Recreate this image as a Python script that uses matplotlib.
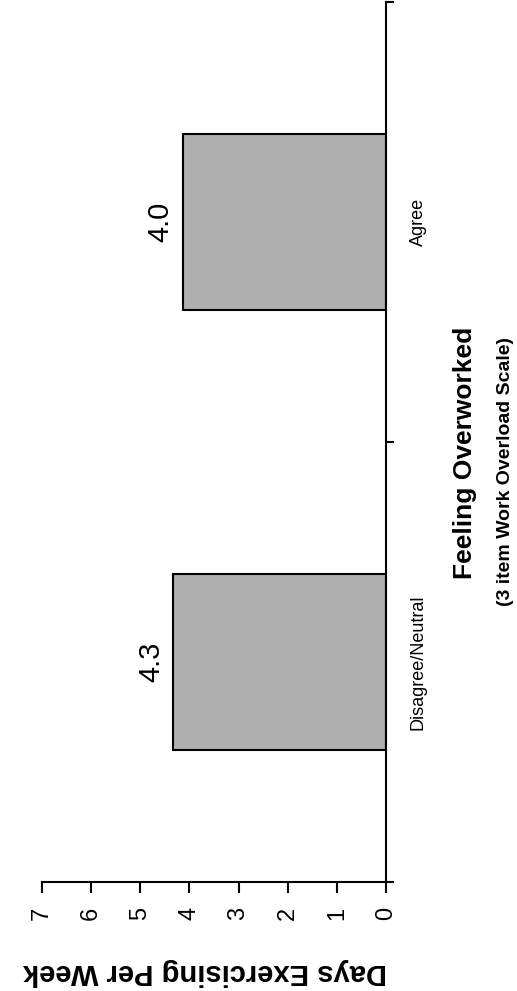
import matplotlib
matplotlib.use("Agg")
import matplotlib.pyplot as plt

# Daten
categories = ["Disagree/Neutral", "Agree"]
days = [4.33, 4.13]
value_labels = ["4.3", "4.0"]
day_ticks = [0, 1, 2, 3, 4, 5, 6, 7]

plt.rcParams['font.family'] = ['Liberation Sans', 'DejaVu Sans']

W, H = 517, 991
fig = plt.figure(figsize=(W / 100, H / 100), dpi=100)
ax = fig.add_axes([42 / W, (H - 882) / H, 344 / W, 880 / H])

pos = list(range(len(categories)))
ax.barh(pos, days, height=0.4, color='#afafaf', edgecolor='black', linewidth=1.5)

# whole chart is turned on its side: value axis runs right -> left
ax.set_xlim(7, 0)
ax.set_ylim(-0.5, 1.5)

for s in ['top', 'left']:
    ax.spines[s].set_visible(False)
for s in ['right', 'bottom']:
    ax.spines[s].set_linewidth(1.5)

ax.set_xticks(day_ticks)
ax.set_xticklabels([str(t) for t in day_ticks], rotation=90)
ax.tick_params(axis='x', direction='out', length=8, width=1.5, pad=10, labelsize=17)

ax.yaxis.tick_right()
ax.set_yticks(pos)
ax.set_yticklabels(categories, rotation=90, va='center')
ax.set_yticks([-0.5, 0.5, 1.5], minor=True)
ax.tick_params(axis='y', which='major', length=0, pad=17, labelsize=13)
ax.tick_params(axis='y', which='minor', direction='out', length=6, width=1.5)

for p, d, lab in zip(pos, days, value_labels):
    ax.annotate(lab, xy=(d, p), xytext=(-6, 0), textcoords='offset points',
                rotation=90, ha='right', va='center', fontsize=21)

fig.text(465 / W, 1 - 453 / H, "Feeling Overworked", rotation=90,
         fontsize=19, fontweight='bold', ha='center', va='center')
fig.text(505 / W, 1 - 471 / H, "(3 item Work Overload Scale)", rotation=90,
         fontsize=14, fontweight='bold', ha='center', va='center')
fig.text(205 / W, 1 - 972 / H, "Days Exercising Per Week", rotation=180,
         fontsize=21, fontweight='bold', ha='center', va='center')

fig.savefig("out.png", dpi=100)
plt.close(fig)
